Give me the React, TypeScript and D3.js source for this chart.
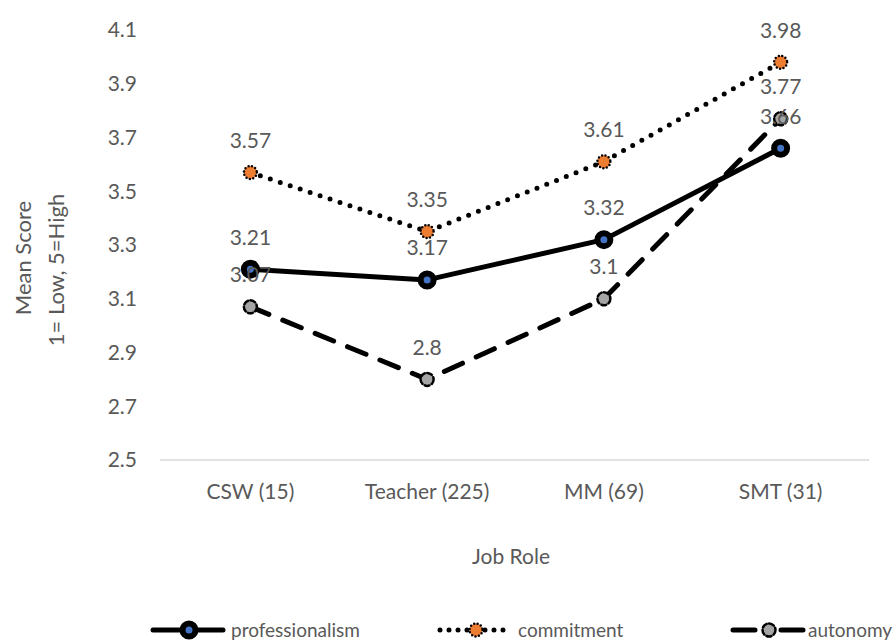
import React from "react";
import * as d3 from "d3";

const categories = ["CSW (15)", "Teacher (225)", "MM (69)", "SMT (31)"];
const professionalism = [3.21, 3.17, 3.32, 3.66];
const commitment = [3.57, 3.35, 3.61, 3.98];
const autonomy = [3.07, 2.8, 3.1, 3.77];
const yTicks = [2.5, 2.7, 2.9, 3.1, 3.3, 3.5, 3.7, 3.9, 4.1];

const W = 896;
const H = 642;
const FONT = "Lato, 'Open Sans', sans-serif";
const TEXT = "#595959";
const FS = 21;

type Series = {
  name: string;
  values: number[];
  dash: string | null;
  width: number;
  fill: string;
  markerStroke: number;
  markerDash: string | null;
  r: number;
};

const series: Series[] = [
  { name: "professionalism", values: professionalism, dash: null, width: 5, fill: "#4472c4", markerStroke: 6, markerDash: null, r: 6.5 },
  { name: "commitment", values: commitment, dash: "0 10.5", width: 5, fill: "#ed7d31", markerStroke: 2.5, markerDash: "0 3.5", r: 6.5 },
  { name: "autonomy", values: autonomy, dash: "20 15", width: 5, fill: "#a5a5a5", markerStroke: 2.5, markerDash: "5 2.5", r: 6.5 },
];

export default function App() {
  const x = d3.scaleBand<string>().domain(categories).range([162, 869]);
  const y = d3.scaleLinear().domain([2.5, 4.1]).range([460, 30]);
  const cx = (c: string) => (x(c) ?? 0) + x.bandwidth() / 2;
  const line = d3
    .line<number>()
    .x((_, i) => cx(categories[i]))
    .y((v) => y(v));

  const legendItems = [
    { s: series[0], x0: 153, tx: 231, dash: null as string | null },
    { s: series[1], x0: 440, tx: 518, dash: "0 9" },
    { s: series[2], x0: 733, tx: 808, dash: "22 26" },
  ];

  return (
    <svg width={W} height={H} style={{ position: "absolute", left: 0, top: 0, background: "#fff" }}>
      {/* y tick labels */}
      {yTicks.map((t) => (
        <text key={t} x={137} y={y(t)} dy="0.35em" textAnchor="end" fontFamily={FONT} fontSize={FS} fill={TEXT}>
          {t.toFixed(1)}
        </text>
      ))}
      {/* baseline */}
      <line x1={160} x2={869} y1={y(2.5)} y2={y(2.5)} stroke="#d9d9d9" strokeWidth={1.5} />
      {/* category labels */}
      {categories.map((c) => (
        <text key={c} x={cx(c)} y={492} dy="0.35em" textAnchor="middle" fontFamily={FONT} fontSize={FS} fill={TEXT}>
          {c}
        </text>
      ))}
      {/* axis titles */}
      <text transform={`translate(23,258) rotate(-90)`} textAnchor="middle" dy="0.35em" fontFamily={FONT} fontSize={22} fill={TEXT}>
        Mean Score
      </text>
      <text transform={`translate(56,270) rotate(-90)`} textAnchor="middle" dy="0.35em" fontFamily={FONT} fontSize={22} fill={TEXT}>
        1= Low, 5=High
      </text>
      <text x={511} y={557} dy="0.35em" textAnchor="middle" fontFamily={FONT} fontSize={FS} fill={TEXT}>
        Job Role
      </text>

      {/* series lines and markers */}
      {series.map((s) => (
        <g key={s.name}>
          <path
            d={line(s.values) ?? ""}
            fill="none"
            stroke="#000"
            strokeWidth={s.width}
            strokeDasharray={s.dash ?? undefined}
            strokeLinecap="round"
            strokeLinejoin="round"
          />
          {s.values.map((v, i) => (
            <circle
              key={i}
              cx={cx(categories[i])}
              cy={y(v)}
              r={s.r}
              fill={s.fill}
              stroke="#000"
              strokeWidth={s.markerStroke}
              strokeDasharray={s.markerDash ?? undefined}
              strokeLinecap="round"
            />
          ))}
        </g>
      ))}

      {/* data labels */}
      {series.map((s) =>
        s.values.map((v, i) => (
          <text
            key={s.name + i}
            x={cx(categories[i])}
            y={y(v) - 32}
            dy="0.35em"
            textAnchor="middle"
            fontFamily={FONT}
            fontSize={FS}
            fill={TEXT}
          >
            {String(v)}
          </text>
        ))
      )}

      {/* legend */}
      {legendItems.map(({ s, x0, tx, dash }) => (
        <g key={s.name}>
          <line
            x1={x0}
            x2={x0 + 70}
            y1={630}
            y2={630}
            stroke="#000"
            strokeWidth={s.width}
            strokeDasharray={dash ?? undefined}
            strokeLinecap="round"
          />
          <circle
            cx={x0 + 36}
            cy={630}
            r={s.r}
            fill={s.fill}
            stroke="#000"
            strokeWidth={s.markerStroke}
            strokeDasharray={s.markerDash ?? undefined}
            strokeLinecap="round"
          />
          <text x={tx} y={630} dy="0.35em" fontFamily={FONT} fontSize={19} fill={TEXT}>
            {s.name}
          </text>
        </g>
      ))}
    </svg>
  );
}
